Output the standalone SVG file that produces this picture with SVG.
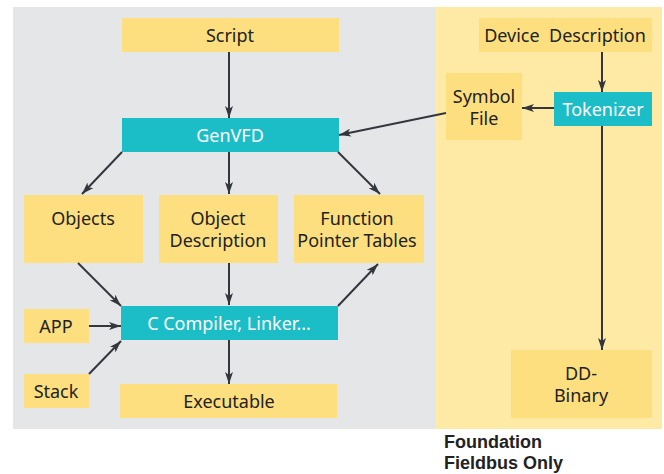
<svg xmlns="http://www.w3.org/2000/svg" width="664" height="474" viewBox="0 0 664 474">
<defs>
<marker id="ah" viewBox="0 0 12 8" refX="12" refY="4" markerWidth="12" markerHeight="8" markerUnits="userSpaceOnUse" orient="auto">
<path d="M0,0 L12,4 L0,8 L3,4 Z" fill="#33373d"/>
</marker>
</defs>
<style>
.y{fill:#fddf80}
.t{fill:#1bbdc7}
text{font-family:"Noto Sans","Open Sans",sans-serif;font-size:18px;fill:#222222;text-anchor:middle}
.w{fill:#ffffff}
.c line{stroke:#33373d;stroke-width:2;marker-end:url(#ah)}
.f{font-family:"Liberation Sans",Arial,sans-serif;font-weight:bold;text-anchor:start;font-size:18px}
</style>
<rect x="13" y="7" width="422" height="422" fill="#e5e6e8"/>
<rect x="435" y="7" width="227" height="422" fill="#fee9a5"/>
<g id="script"><rect class="y" x="122" y="18" width="217" height="34"/><text x="230" y="42">Script</text></g>
<g id="genvfd"><rect class="t" x="122" y="118" width="217" height="34"/><text class="w" x="230" y="142">GenVFD</text></g>
<g id="objects"><rect class="y" x="24" y="195" width="119" height="68"/><text x="83" y="225">Objects</text></g>
<g id="objdesc"><rect class="y" x="159" y="195" width="119" height="68"/><text x="218" y="225">Object</text><text x="218" y="247">Description</text></g>
<g id="fpt"><rect class="y" x="294" y="195" width="130" height="68"/><text x="357" y="225">Function</text><text x="357" y="247">Pointer Tables</text></g>
<g id="cc"><rect class="t" x="121" y="306" width="217" height="34"/><text class="w" x="229" y="330">C Compiler, Linker...</text></g>
<g id="app"><rect class="y" x="24" y="309" width="65" height="34"/><text x="56" y="333">APP</text></g>
<g id="stack"><rect class="y" x="24" y="374" width="65" height="34"/><text x="56" y="398">Stack</text></g>
<g id="exe"><rect class="y" x="120" y="384" width="217" height="34"/><text x="229" y="408">Executable</text></g>
<g id="devdesc"><rect class="y" x="479" y="18" width="173" height="34"/><text x="565" y="42" xml:space="preserve">Device  Description</text></g>
<g id="symbol"><rect class="y" x="446" y="73" width="76" height="67"/><text x="484" y="103">Symbol</text><text x="484" y="125">File</text></g>
<g id="tokenizer"><rect class="t" x="554" y="92" width="98" height="34"/><text class="w" x="603" y="116">Tokenizer</text></g>
<g id="ddbinary"><rect class="y" x="511" y="350" width="141" height="68"/><text x="581" y="380">DD-</text><text x="581" y="402">Binary</text></g>
<g id="connectors" class="c">
<line x1="229" y1="52" x2="229" y2="118"/>
<line x1="446" y1="113" x2="339" y2="135"/>
<line x1="602" y1="52" x2="602" y2="92"/>
<line x1="554" y1="108" x2="522" y2="108"/>
<line x1="602" y1="126" x2="602" y2="350"/>
<line x1="122" y1="152" x2="82" y2="194"/>
<line x1="229" y1="152" x2="229" y2="194"/>
<line x1="338" y1="152" x2="380" y2="194"/>
<line x1="78" y1="263" x2="121" y2="306"/>
<line x1="229" y1="263" x2="229" y2="305"/>
<line x1="338" y1="306" x2="378" y2="264"/>
<line x1="89" y1="326" x2="121" y2="326"/>
<line x1="89" y1="374" x2="121" y2="341"/>
<line x1="229" y1="340" x2="229" y2="384"/>
</g>
<text class="f" x="444" y="448">Foundation</text>
<text class="f" x="444" y="469">Fieldbus Only</text>
</svg>
